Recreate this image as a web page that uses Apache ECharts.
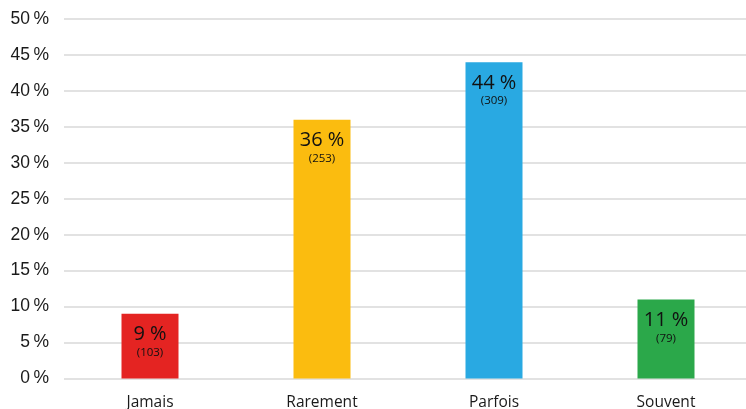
<!DOCTYPE html>
<html>
<head>
<meta charset="utf-8">
<script src="https://cdn.jsdelivr.net/npm/echarts@6/dist/echarts.min.js"></script>
<style>
  html, body { margin: 0; padding: 0; background: #ffffff; }
  #chart { width: 746px; height: 409px; }
</style>
</head>
<body>
<div id="chart"></div>
<script>
// Réponses par catégorie : pourcentage et effectif
const categories = ['Jamais', 'Rarement', 'Parfois', 'Souvent'];
const percents = [9, 36, 44, 11];
const counts = [103, 253, 309, 79];
const barColors = ['#E42422', '#FBBC0F', '#29A9E2', '#2BA84A'];
const yTicks = [0, 5, 10, 15, 20, 25, 30, 35, 40, 45, 50];

const chart = echarts.init(document.getElementById('chart'), null, { renderer: 'canvas' });

chart.setOption({
  animation: false,
  grid: {
    left: 64, width: 688, top: 19, bottom: 30.5,
    containLabel: false,
    outerBoundsMode: 'none'
  },
  xAxis: {
    type: 'category',
    data: categories,
    axisLine: { show: false },
    axisTick: { show: false },
    axisLabel: {
      margin: 16,
      color: '#1a1a1a',
      fontFamily: 'Open Sans',
      fontSize: 15.5
    }
  },
  yAxis: {
    type: 'value',
    min: yTicks[0],
    max: yTicks[yTicks.length - 1],
    interval: 5,
    axisLine: { show: false },
    axisTick: { show: false },
    splitLine: { lineStyle: { color: '#d9d9d9', width: 1.5 } },
    axisLabel: {
      margin: 15,
      color: '#1a1a1a',
      fontFamily: 'Liberation Sans',
      fontSize: 17.5,
      formatter: v => v + '\u2009%'
    }
  },
  series: [{
    type: 'bar',
    barWidth: 57,
    data: percents.map((v, i) => ({
      value: v,
      itemStyle: { color: barColors[i] }
    })),
    label: {
      show: true,
      position: 'insideTop',
      distance: 10,
      color: '#111111',
      fontFamily: 'Open Sans',
      formatter: p => '{a|' + p.value + ' %}\n{b|(' + counts[p.dataIndex] + ')}',
      rich: {
        a: { fontSize: 20, lineHeight: 22, fontFamily: 'Open Sans', color: '#111111' },
        b: { fontSize: 11.5, lineHeight: 14, fontFamily: 'Open Sans', color: '#111111' }
      }
    }
  }]
});
</script>
</body>
</html>
